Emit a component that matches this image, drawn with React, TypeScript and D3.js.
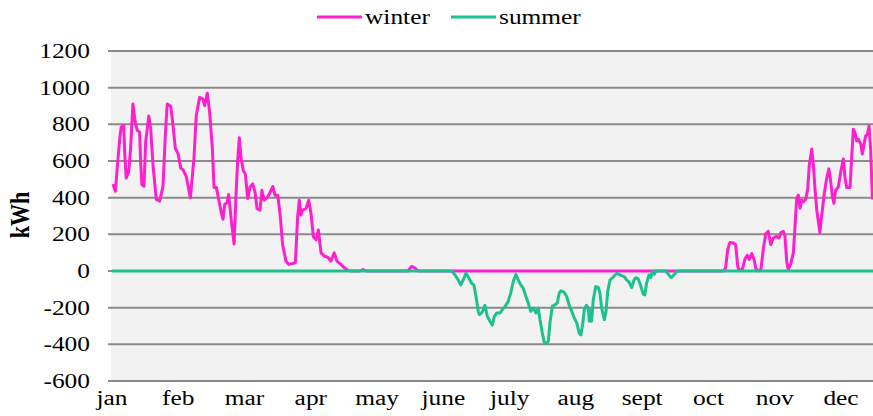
import React, { useRef, useEffect } from "react";
import * as d3 from "d3";

// month labels along the bottom
const months = ["jan", "feb", "mar", "apr", "may", "june", "july", "aug", "sept", "oct", "nov", "dec"];
const yTicks = [-600, -400, -200, 0, 200, 400, 600, 800, 1000, 1200];

// day of year and kWh
const winterDay = [
  0.5, 1.6, 2.5, 3.7, 4.4, 5.6, 6.1, 6.8, 8.0, 8.9, 10.0, 11.1, 12.1, 13.2, 13.7, 14.3, 15.3, 16.1, 17.6, 18.5,
  19.6, 21.2, 22.8, 24.4, 25.5, 26.4, 28.1, 29.2, 30.3, 31.6, 32.9, 34.0, 35.5, 37.5, 39.2, 40.3, 41.9, 43.5, 44.3, 45.6,
  46.7, 48.0, 48.8, 49.9, 51.2, 52.3, 53.1, 53.9, 55.0, 55.8, 57.1, 58.4, 59.4, 60.1, 60.9, 61.7, 62.8, 63.8, 64.9, 66.0,
  67.3, 68.4, 69.4, 70.8, 71.7, 72.8, 74.5, 75.7, 76.9, 78.0, 79.3, 80.5, 81.6, 83.2, 84.5, 86.4, 87.7, 88.8, 89.6, 90.4,
  91.2, 92.8, 94.1, 95.2, 96.3, 97.6, 98.7, 100.0, 101.5, 103.2, 104.7, 106.3, 107.6, 109.5, 111.1, 112.7, 114.3, 118.6, 120.1, 121.5,
  141.6, 143.3, 144.4, 146.4, 292.7, 293.5, 294.5, 295.6, 297.2, 298.3, 299.3, 299.9, 301.5, 302.8, 303.9, 304.8, 306.0, 307.1, 308.0, 309.1,
  310.4, 311.5, 312.7, 313.9, 315.1, 316.3, 317.9, 319.0, 320.0, 321.1, 321.9, 322.7, 323.5, 324.6, 325.9, 326.7, 327.5, 328.3, 329.1, 329.9,
  330.7, 331.8, 332.8, 333.5, 334.7, 335.5, 336.3, 337.1, 338.2, 338.6, 339.4, 340.7, 341.8, 342.9, 343.7, 344.5, 345.3, 346.1, 347.4, 348.7,
  349.8, 350.6, 351.4, 353.0, 353.8, 354.6, 355.4, 356.2, 357.0, 358.2, 358.9, 359.7, 360.5, 361.3, 362.1, 362.9, 363.7, 364,
];
const winterKwh = [
  474, 435, 561, 722, 785, 794, 641, 507, 543, 668, 911, 812, 767, 758, 597, 471, 462, 704, 845, 776,
  579, 390, 381, 462, 740, 911, 898, 794, 668, 641, 561, 552, 516, 399, 615, 848, 947, 938, 902, 970,
  866, 668, 456, 456, 381, 318, 282, 363, 372, 417, 273, 147, 435, 601, 727, 619, 547, 529, 395, 457,
  475, 431, 341, 332, 440, 386, 404, 431, 461, 413, 413, 296, 144, 54, 36, 41, 45, 296, 386, 305,
  332, 341, 386, 314, 188, 170, 224, 99, 81, 75, 54, 99, 54, 36, 18, 5, 0, 0, 8, 0,
  0, 25, 20, 0, 0, 18, 117, 156, 153, 144, 27, 4, 9, 67, 85, 63, 95, 63, 13, 0,
  9, 117, 203, 216, 144, 180, 189, 180, 210, 216, 189, 54, 9, 36, 99, 243, 396, 414, 342, 387,
  378, 390, 450, 575, 665, 575, 440, 333, 243, 210, 297, 423, 503, 557, 494, 414, 369, 440, 458, 548,
  611, 512, 455, 455, 620, 773, 755, 710, 719, 692, 638, 692, 737, 746, 791, 656, 405, 390,
];

const summerDay = [
  0, 162.5, 164.1, 165.6, 166.8, 168.0, 169.3, 170.4, 172.0, 173.1, 174.1, 175.2, 175.7, 176.8, 177.6, 178.4, 179.5, 180.8, 181.9, 182.9,
  184.0, 185.6, 186.7, 188.0, 189.5, 190.7, 191.9, 193.2, 194.3, 195.5, 196.7, 198.0, 199.1, 200.3, 201.5, 202.8, 203.9, 204.7, 205.8, 206.8,
  207.9, 208.7, 209.5, 210.6, 211.9, 213.0, 213.9, 214.8, 216.2, 217.5, 218.6, 219.9, 221.1, 222.3, 223.4, 224.3, 225.1, 225.9, 227.0, 227.8,
  228.3, 229.0, 229.4, 230.2, 231.4, 232.6, 233.4, 234.2, 235.5, 236.3, 237.1, 238.2, 239.5, 240.6, 241.4, 242.5, 243.8, 245.0, 246.2, 247.3,
  248.6, 249.7, 250.6, 251.7, 253.0, 254.1, 254.9, 255.7, 256.8, 257.7, 258.4, 259.4, 260.1, 265.0, 266.1, 267.4, 268.5, 270.1, 270.9, 364,
];
const summerKwh = [
  0, 0, -22, -49, -76, -49, -13, -31, -67, -76, -139, -220, -238, -229, -211, -187, -247, -274, -295, -247,
  -229, -229, -211, -193, -166, -121, -58, -18, -49, -76, -94, -139, -175, -220, -202, -229, -202, -265, -337, -391,
  -396, -382, -283, -193, -184, -175, -121, -108, -115, -139, -184, -220, -256, -283, -337, -349, -292, -211, -187, -202,
  -274, -216, -274, -157, -85, -90, -121, -202, -265, -220, -112, -49, -36, -22, -13, -18, -25, -31, -49, -61,
  -90, -49, -36, -43, -85, -126, -130, -67, -22, -36, -4, -18, 0, 0, -18, -36, -25, -4, 0, 0,
];

const WINTER = "#ff1fcf";
const SUMMER = "#1dc18f";
const FONT = "'Liberation Serif', 'Times New Roman', serif";
const STRETCH = 1.27; // the reference text is drawn wide

const App = () => {
  const svgRef = useRef(null);

  useEffect(() => {
    const svg = d3.select(svgRef.current);
    svg.selectAll("*").remove();

    const width = 873;
    const height = 416;
    const margin = { top: 51, right: 0, bottom: 35, left: 111 };

    const x = d3.scaleLinear().domain([0, 364]).range([margin.left + 1, width - margin.right]);
    const y = d3.scaleLinear().domain([-600, 1200]).range([height - margin.bottom, margin.top]);
    const xLabel = d3.scalePoint().domain(months).range([112, 841]);

    // plot area
    svg
      .append("rect")
      .attr("x", margin.left)
      .attr("y", margin.top)
      .attr("width", width - margin.left - margin.right)
      .attr("height", y(-600) - y(1200))
      .attr("fill", "#f2f2f2");

    // gridlines
    svg
      .append("g")
      .selectAll("line")
      .data(yTicks)
      .join("line")
      .attr("x1", margin.left - 3)
      .attr("x2", width)
      .attr("y1", (d) => y(d))
      .attr("y2", (d) => y(d))
      .attr("stroke", "#8a8a8a")
      .attr("stroke-width", 2);

    // y tick labels
    svg
      .append("g")
      .selectAll("text")
      .data(yTicks)
      .join("text")
      .attr("transform", (d) => `translate(90,${y(d) + 7}) scale(${STRETCH},1)`)
      .attr("text-anchor", "end")
      .style("font-family", FONT)
      .style("font-size", "20px")
      .text((d) => d);

    // month labels
    svg
      .append("g")
      .selectAll("text")
      .data(months)
      .join("text")
      .attr("transform", (d) => `translate(${xLabel(d)},405) scale(${STRETCH},1)`)
      .attr("text-anchor", "middle")
      .style("font-family", FONT)
      .style("font-size", "20px")
      .text((d) => d);

    // axis title
    svg
      .append("text")
      .attr("transform", `translate(29,215) scale(${STRETCH},1) rotate(-90)`)
      .attr("text-anchor", "middle")
      .style("font-family", FONT)
      .style("font-size", "22px")
      .style("font-weight", "bold")
      .text("kWh");

    const line = d3
      .line()
      .x((d) => x(d[0]))
      .y((d) => y(d[1]));

    const series = [
      { name: "winter", color: WINTER, pts: winterDay.map((d, i) => [d, winterKwh[i]]) },
      { name: "summer", color: SUMMER, pts: summerDay.map((d, i) => [d, summerKwh[i]]) },
    ];

    svg
      .append("g")
      .selectAll("path")
      .data(series)
      .join("path")
      .attr("d", (d) => line(d.pts))
      .attr("fill", "none")
      .attr("stroke", (d) => d.color)
      .attr("stroke-width", 3)
      .attr("stroke-linejoin", "round");

    // legend
    const legend = [
      { name: "winter", color: WINTER, x: 317 },
      { name: "summer", color: SUMMER, x: 451 },
    ];
    const lg = svg.append("g").selectAll("g").data(legend).join("g");
    lg.append("line")
      .attr("x1", (d) => d.x)
      .attr("x2", (d) => d.x + 45)
      .attr("y1", 17)
      .attr("y2", 17)
      .attr("stroke", (d) => d.color)
      .attr("stroke-width", 3);
    lg.append("text")
      .attr("transform", (d) => `translate(${d.x + 48},24) scale(${STRETCH},1)`)
      .style("font-family", FONT)
      .style("font-size", "20px")
      .text((d) => d.name);
  }, []);

  return (
    <svg
      ref={svgRef}
      width={873}
      height={416}
      style={{ position: "absolute", left: 0, top: 0, background: "#fff" }}
    />
  );
};

export default App;
